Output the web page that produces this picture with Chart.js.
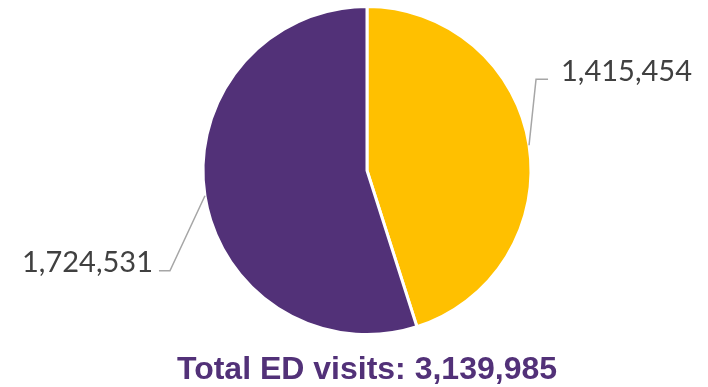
<!DOCTYPE html>
<html>
<head>
<meta charset="utf-8">
<script src="https://cdn.jsdelivr.net/npm/chart.js@4"></script>
<style>
  html, body { margin: 0; padding: 0; background: #fff; }
  #wrap { width: 708px; height: 387px; }
</style>
</head>
<body>
<div id="wrap"><canvas id="chartPizza"></canvas></div>
<script>
// ===== dados =====
const categorias = ['Grupo A', 'Grupo B'];
const visitas = [1415454, 1724531];
const cores = ['#FFC000', '#523178'];
const tituloTotal = 'Total ED visits: 3,139,985';

// deslocamentos das linhas guia (cotovelo, fim da linha, texto)
const guias = [
    { dx: 7, dy: -66, len: 12, gap: 13, align: 'left' },
    { dx: -35, dy: 75, len: -11, gap: -6, align: 'right' }
];

const fmt = n => n.toLocaleString('en-US');

const rotulosPlugin = {
    id: 'rotulos',
    afterDatasetsDraw(chart) {
        const ctx = chart.ctx;
        const meta = chart.getDatasetMeta(0);
        meta.data.forEach((arc, i) => {
            const p = arc.getProps(['x', 'y', 'startAngle', 'endAngle', 'outerRadius'], true);
            const meio = (p.startAngle + p.endAngle) / 2;
            const ax = p.x + Math.cos(meio) * p.outerRadius;
            const ay = p.y + Math.sin(meio) * p.outerRadius;
            const g = guias[i];
            const ex = ax + g.dx, ey = ay + g.dy;
            ctx.save();
            ctx.strokeStyle = '#a6a6a6';
            ctx.lineWidth = 1.5;
            ctx.beginPath();
            ctx.moveTo(ax, ay);
            ctx.lineTo(ex, ey);
            ctx.lineTo(ex + g.len, ey);
            ctx.stroke();
            ctx.fillStyle = '#404040';
            ctx.font = '29px Lato';
            ctx.textAlign = g.align;
            ctx.textBaseline = 'middle';
            ctx.fillText(fmt(visitas[i]), ex + g.len + g.gap, ey - 8);
            ctx.restore();
        });
    }
};

new Chart(document.getElementById('chartPizza'), {
    type: 'pie',
    data: {
        labels: categorias,
        datasets: [{
            data: visitas,
            backgroundColor: cores,
            borderColor: '#ffffff',
            borderWidth: 3,
        }]
    },
    options: {
        responsive: true,
        maintainAspectRatio: false,
        animation: false,
        layout: { padding: { top: 5, left: 26, right: 0, bottom: 0 } },
        plugins: {
            legend: { display: false },
            tooltip: { enabled: false },
            title: {
                display: true,
                position: 'bottom',
                text: tituloTotal,
                color: '#523178',
                font: { family: 'Liberation Sans', size: 32, weight: 'bold', lineHeight: 1 },
                padding: { top: 18, bottom: 1 }
            }
        }
    },
    plugins: [rotulosPlugin]
});
</script>
</body>
</html>
